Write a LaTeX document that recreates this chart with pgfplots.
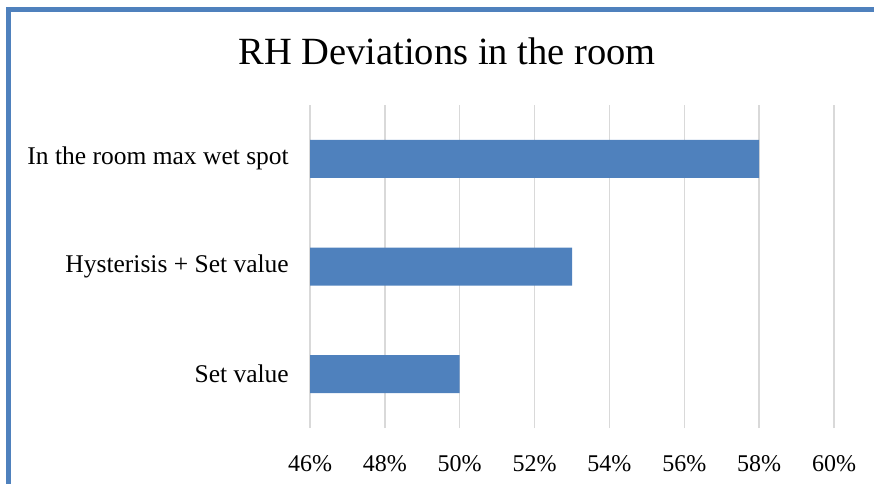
\documentclass[border=0pt]{standalone}
\usepackage{fontspec}
\setmainfont{Liberation Serif}
\usepackage{pgfplots}
\pgfplotsset{compat=1.18}
\definecolor{barblue}{HTML}{4F81BD}
\definecolor{gridgray}{HTML}{D9D9D9}
\begin{document}
\begin{tikzpicture}[x=1pt,y=1pt]
\useasboundingbox (0,0) rectangle (874,483);
\clip (0,0) rectangle (874,483);
\draw[barblue, line width=4.5pt] (8.5,-20) -- (8.5,473.5) -- (900,473.5);
\node[anchor=base, inner sep=0pt, font=\fontsize{38.5}{46}\selectfont] at (447,418) {RH Deviations in the room};
\begin{axis}[
  at={(310pt,55pt)}, anchor=south west,
  scale only axis, width=524pt, height=323pt,
  xbar, bar width=38pt,
  xmin=46, xmax=60, ymin=0.5, ymax=3.5,
  xtick={46,48,50,52,54,56,58,60},
  ytick={1,2,3},
  yticklabels={Set value, Hysterisis + Set value, In the room max wet spot},
  xticklabel={\pgfmathprintnumber{\tick}\%},
  /pgf/number format/assume math mode=true,
  xmajorgrids, grid style={gridgray, line width=1.5pt},
  axis line style={draw=none},
  major tick length=0pt,
  tick style={draw=none},
  tick label style={inner sep=0pt},
  xticklabel style={font=\fontsize{24}{28}\selectfont, anchor=base, yshift=-43pt},
  yticklabel style={font=\fontsize{25.5}{30}\selectfont, anchor=east, xshift=-21pt},
]
\addplot[fill=barblue, draw=none] coordinates {(50,1) (53,2) (58,3)};
\end{axis}
\end{tikzpicture}
\end{document}
